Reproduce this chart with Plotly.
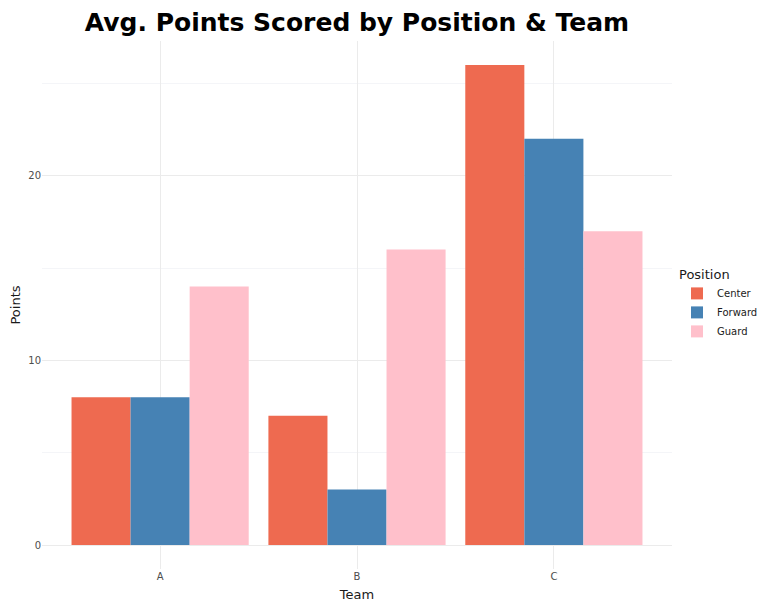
import plotly.graph_objects as go

# data
teams = ["A", "B", "C"]
positions = ["Center", "Forward", "Guard"]
center_pts = [8, 7, 26]
forward_pts = [8, 3, 22]
guard_pts = [14, 16, 17]

colors = {"Center": "#EE6A50", "Forward": "#4682B4", "Guard": "#FFC0CB"}
series = {"Center": center_pts, "Forward": forward_pts, "Guard": guard_pts}

# the page body has an 8px margin, so the figure is a bit smaller than the window
W, H = 760, 600

fig = go.Figure()
for pos in positions:
    fig.add_trace(go.Bar(
        x=teams,
        y=series[pos],
        name=pos,
        marker=dict(color=colors[pos], line=dict(width=0)),
    ))

fig.update_layout(
    width=W,
    height=H,
    barmode="group",
    bargap=0.1,
    bargroupgap=0,
    plot_bgcolor="white",
    paper_bgcolor="white",
    font=dict(family="DejaVu Sans", color="#1A1A1A"),
    margin=dict(l=34, r=96, t=33, b=39),
    title=dict(
        text="<b>Avg. Points Scored by Position & Team</b>",
        x=349 / W, xanchor="center",
        y=1 - 14 / H, yanchor="middle",
        font=dict(size=25, color="black"),
    ),
    legend=dict(
        title=dict(text="Position", font=dict(size=13)),
        font=dict(size=10),
        xref="container", yref="container",
        x=669 / W, xanchor="left",
        y=1 - 296 / H, yanchor="middle",
        bgcolor="rgba(0,0,0,0)",
        tracegroupgap=0,
    ),
)

fig.update_xaxes(
    title=dict(text="Team", font=dict(size=13), standoff=8),
    showgrid=True, gridcolor="#EBEBEB", gridwidth=1,
    tickfont=dict(size=10, color="#4D4D4D"),
    ticks="", zeroline=False, showline=False,
    range=[-0.6, 2.6],
    automargin=False,
)
fig.update_yaxes(
    title=dict(text="Points", font=dict(size=13)),
    range=[-1.3, 27.3],
    tick0=0, dtick=10,
    showgrid=True, gridcolor="#EBEBEB", gridwidth=1,
    minor=dict(showgrid=True, dtick=5, tick0=0, gridcolor="#F4F5F8", gridwidth=1),
    tickfont=dict(size=10, color="#4D4D4D"),
    ticks="", zeroline=False, showline=False,
    automargin=False,
)

fig.write_html("out.html")
